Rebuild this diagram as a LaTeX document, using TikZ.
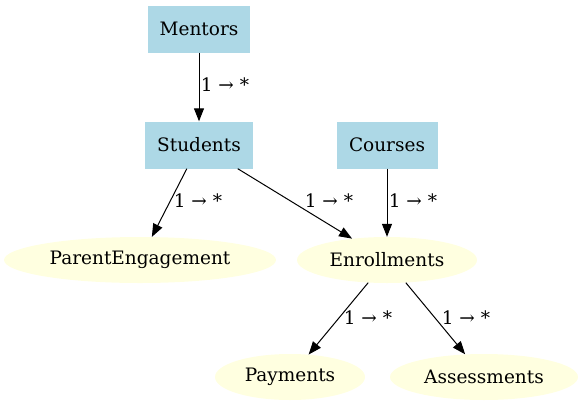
\documentclass[tikz,border=0pt]{standalone}
\usepackage{fontspec}
\setmainfont{DejaVu Serif}
\usetikzlibrary{shapes.geometric,arrows.meta}
\definecolor{boxblue}{HTML}{ADD8E6}
\definecolor{ellyellow}{HTML}{FFFFE0}
\begin{document}
\begin{tikzpicture}[x=1pt,y=-1pt,
  every node/.style={font=\fontsize{18.5}{22}\selectfont},
  entity/.style={rectangle,fill=boxblue,inner sep=0pt,minimum height=47pt},
  relent/.style={ellipse,fill=ellyellow,inner sep=0pt,minimum height=46pt},
  conn/.style={-{Triangle[length=13pt,width=10pt]},line width=1pt},
  lbl/.style={inner sep=0pt}]
\useasboundingbox (0,0) rectangle (583,407);
\node[entity,minimum width=102pt] (mentors) at (199,29) {Mentors};
\node[entity,minimum width=108pt] (students) at (199,145) {Students};
\node[entity,minimum width=101pt] (courses) at (387,145) {Courses};
\node[relent,minimum width=272pt] (parent) at (140,260) {ParentEngagement};
\node[relent,minimum width=180pt] (enroll) at (387,260) {Enrollments};
\node[relent,minimum width=150pt] (pay) at (290,377) {Payments};
\node[relent,minimum width=188pt] (assess) at (484,377) {Assessments};
\draw[conn] (mentors) -- (students);
\draw[conn] (students) -- (parent);
\draw[conn] (students) -- (enroll);
\draw[conn] (courses) -- (enroll);
\draw[conn] (enroll) -- (pay);
\draw[conn] (enroll) -- (assess);
\node[lbl] (l1) at (225,85) {1 → *};
\node[lbl] (l2) at (198,201) {1 → *};
\node[lbl] (l3) at (329,201) {1 → *};
\node[lbl] (l4) at (413,201) {1 → *};
\node[lbl] (l5) at (368,318) {1 → *};
\node[lbl] (l6) at (466,318) {1 → *};
\end{tikzpicture}
\end{document}
